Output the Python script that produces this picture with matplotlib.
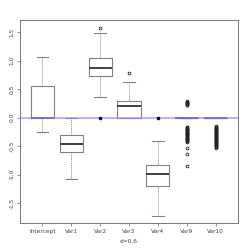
import matplotlib
matplotlib.use("Agg")
import matplotlib.pyplot as plt

# box statistics
names = ["Intercept", "Var1", "Var2", "Var3", "Var4", "Var9", "Var10"]
med = [0.0, -0.456, 0.877, 0.20, -0.99, 0.0, 0.0]
q1 = [0.0, -0.61, 0.726, 0.0, -1.20, 0.0, 0.0]
q3 = [0.56, -0.30, 1.04, 0.293, -0.835, 0.0, 0.0]
whislo = [-0.256, -1.08, 0.363, 0.0, -1.72, 0.0, 0.0]
whishi = [1.06, 0.0, 1.48, 0.62, -0.414, 0.0, 0.0]
fliers = [
    [],
    [],
    [1.58],
    [0.79],
    [],
    [0.29, 0.28, 0.27, 0.26, 0.25, 0.24, 0.23, 0.22,
     -0.16, -0.17, -0.18, -0.19, -0.20, -0.21, -0.22, -0.23, -0.24,
     -0.25, -0.26, -0.27, -0.28, -0.29, -0.30, -0.31, -0.32, -0.33,
     -0.34, -0.35, -0.36, -0.37, -0.38, -0.39, -0.40, -0.41, -0.42,
     -0.53, -0.64, -0.85],
    [-0.15, -0.16, -0.17, -0.18, -0.19, -0.20, -0.21, -0.22, -0.23,
     -0.24, -0.25, -0.26, -0.27, -0.28, -0.29, -0.30, -0.31, -0.32,
     -0.33, -0.34, -0.35, -0.36, -0.37, -0.38, -0.39, -0.40, -0.41,
     -0.42, -0.43, -0.44, -0.45, -0.46, -0.47, -0.48, -0.49, -0.50,
     -0.52, -0.54],
]
# dark points drawn on the zero line
dot_pos = [3, 5]
dot_val = [0.0, 0.0]
ref_line = 0.0

stats = []
for i in range(len(names)):
    stats.append(dict(med=med[i], q1=q1[i], q3=q3[i], whislo=whislo[i],
                      whishi=whishi[i], fliers=fliers[i], label=names[i]))

fig = plt.figure(figsize=(2.49, 2.49), dpi=100)
ax = fig.add_axes([0.0803, 0.1044, 0.8757, 0.8153])

ax.bxp(stats, positions=range(1, 8), widths=0.8, showfliers=True,
       boxprops=dict(color="#808080", linewidth=0.8),
       medianprops=dict(color="#333333", linewidth=1.3),
       whiskerprops=dict(color="#909090", linewidth=0.6, linestyle=(0, (1.5, 1))),
       capprops=dict(color="#808080", linewidth=0.8),
       flierprops=dict(marker="o", markerfacecolor="none", markeredgecolor="#222222",
                       markersize=2.0, markeredgewidth=0.6))

ax.axhline(ref_line, color="#8f8fff", linewidth=1.2, alpha=0.8, zorder=5)
ax.plot(dot_pos, dot_val, "o", color="#000066", markersize=1.6, zorder=6)

ax.set_xlim(0.22, 7.78)
ax.set_ylim(-1.847, 1.714)
ax.set_yticks([-1.5, -1.0, -0.5, 0.0, 0.5, 1.0, 1.5])
ax.set_yticklabels(["-1.5", "-1.0", "-0.5", "0.0", "0.5", "1.0", "1.5"],
                   rotation=90, va="center")
ax.set_xticks(range(1, 8))
ax.set_xticklabels(names)
ax.tick_params(labelsize=4.2, length=2, width=0.5, pad=2, colors="#666666",
               labelcolor="#444444")
for s in ax.spines.values():
    s.set_color("#777777")
    s.set_linewidth(0.7)
ax.set_xlabel("d=0.6", fontsize=4.2, color="#444444", labelpad=4)

fig.savefig("out.png", dpi=100)
